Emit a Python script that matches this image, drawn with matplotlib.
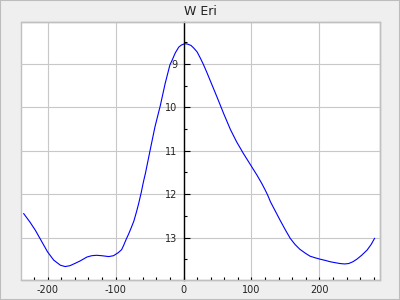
import numpy as np
import matplotlib
matplotlib.use('Agg')
import matplotlib.pyplot as plt
from matplotlib.patches import Rectangle
from matplotlib.ticker import MultipleLocator

plt.rcParams['axes.unicode_minus'] = False

title = 'W Eri'
phase = [-235, -226, -218, -209, -200, -191, -181, -174, -167, -160, -152, -142,
         -135, -128, -120, -110, -103, -96, -91, -88, -84, -81, -77, -73, -69,
         -66, -62, -59, -56, -49, -42, -34, -27, -20, -17, -12, -7, -3, 2, 6,
         11, 15, 20, 25, 29, 34, 39, 49, 59, 69, 78, 88, 98, 108, 115, 120,
         124, 128, 135, 142, 150, 157, 164, 171, 179, 186, 194, 201, 209, 216,
         223, 230, 237, 243, 249, 255, 262, 270, 276, 281]
mag = [12.45, 12.64, 12.83, 13.08, 13.33, 13.52, 13.64, 13.67, 13.65, 13.60, 13.54, 13.45,
       13.42, 13.41, 13.42, 13.44, 13.42, 13.35, 13.28, 13.18, 13.03, 12.93, 12.78, 12.62, 12.40,
       12.22, 11.95, 11.72, 11.52, 10.98, 10.45, 9.95, 9.45, 9.02, 8.92, 8.74, 8.61, 8.56, 8.53, 8.54,
       8.57, 8.63, 8.72, 8.87, 9.00, 9.18, 9.37, 9.75, 10.14, 10.51, 10.79, 11.06, 11.31, 11.56, 11.75, 11.90,
       12.03, 12.18, 12.39, 12.60, 12.83, 13.02, 13.16, 13.27, 13.36, 13.43, 13.47, 13.50, 13.53, 13.56,
       13.58, 13.60, 13.61, 13.60, 13.56, 13.50, 13.41, 13.29, 13.16, 13.02]

fig = plt.figure(figsize=(4, 3), dpi=100, facecolor='#efefef')
fig.patches.append(Rectangle((0, 0), 1, 1, transform=fig.transFigure, fill=False,
                             edgecolor='#bdbdbd', linewidth=1.5))
ax = fig.add_axes([21/400, 20/300, 359/400, 258/300])
ax.set_facecolor('white')

ax.plot(phase, mag, color='#0000ff', linewidth=0.8)
ax.set_xlim(-239, 289)
ax.set_ylim(13.98, 8.03)

ax.xaxis.set_major_locator(MultipleLocator(100))
ax.xaxis.set_minor_locator(MultipleLocator(20))
ax.yaxis.set_major_locator(MultipleLocator(1))
ax.yaxis.set_minor_locator(MultipleLocator(0.5))
ax.grid(True, which='major', color='#c8c8c8', linewidth=0.8)
ax.set_axisbelow(True)

for s in ['top', 'right', 'bottom']:
    ax.spines[s].set_color('#c0c0c0')
    ax.spines[s].set_linewidth(1)
ax.spines['left'].set_position(('data', 0))
ax.spines['left'].set_color('black')
ax.spines['left'].set_linewidth(1)
ax.add_patch(Rectangle((0, 0), 1, 1, transform=ax.transAxes, fill=False,
                       edgecolor='#c0c0c0', linewidth=1, clip_on=False, zorder=0.5))

ax.tick_params(axis='x', which='both', direction='in', length=2.5, width=0.8,
               labelsize=7, pad=3.5, colors='black', labelcolor='#222222')
ax.tick_params(axis='y', which='major', direction='in', length=4.5, width=0.8,
               labelsize=7, pad=4.5, colors='black', labelcolor='#222222')
ax.tick_params(axis='y', which='minor', direction='in', length=2.2, width=0.8)

ax.set_title(title, fontsize=9, pad=5, color='#222222')

plt.savefig('out.png', dpi=100, facecolor=fig.get_facecolor())
